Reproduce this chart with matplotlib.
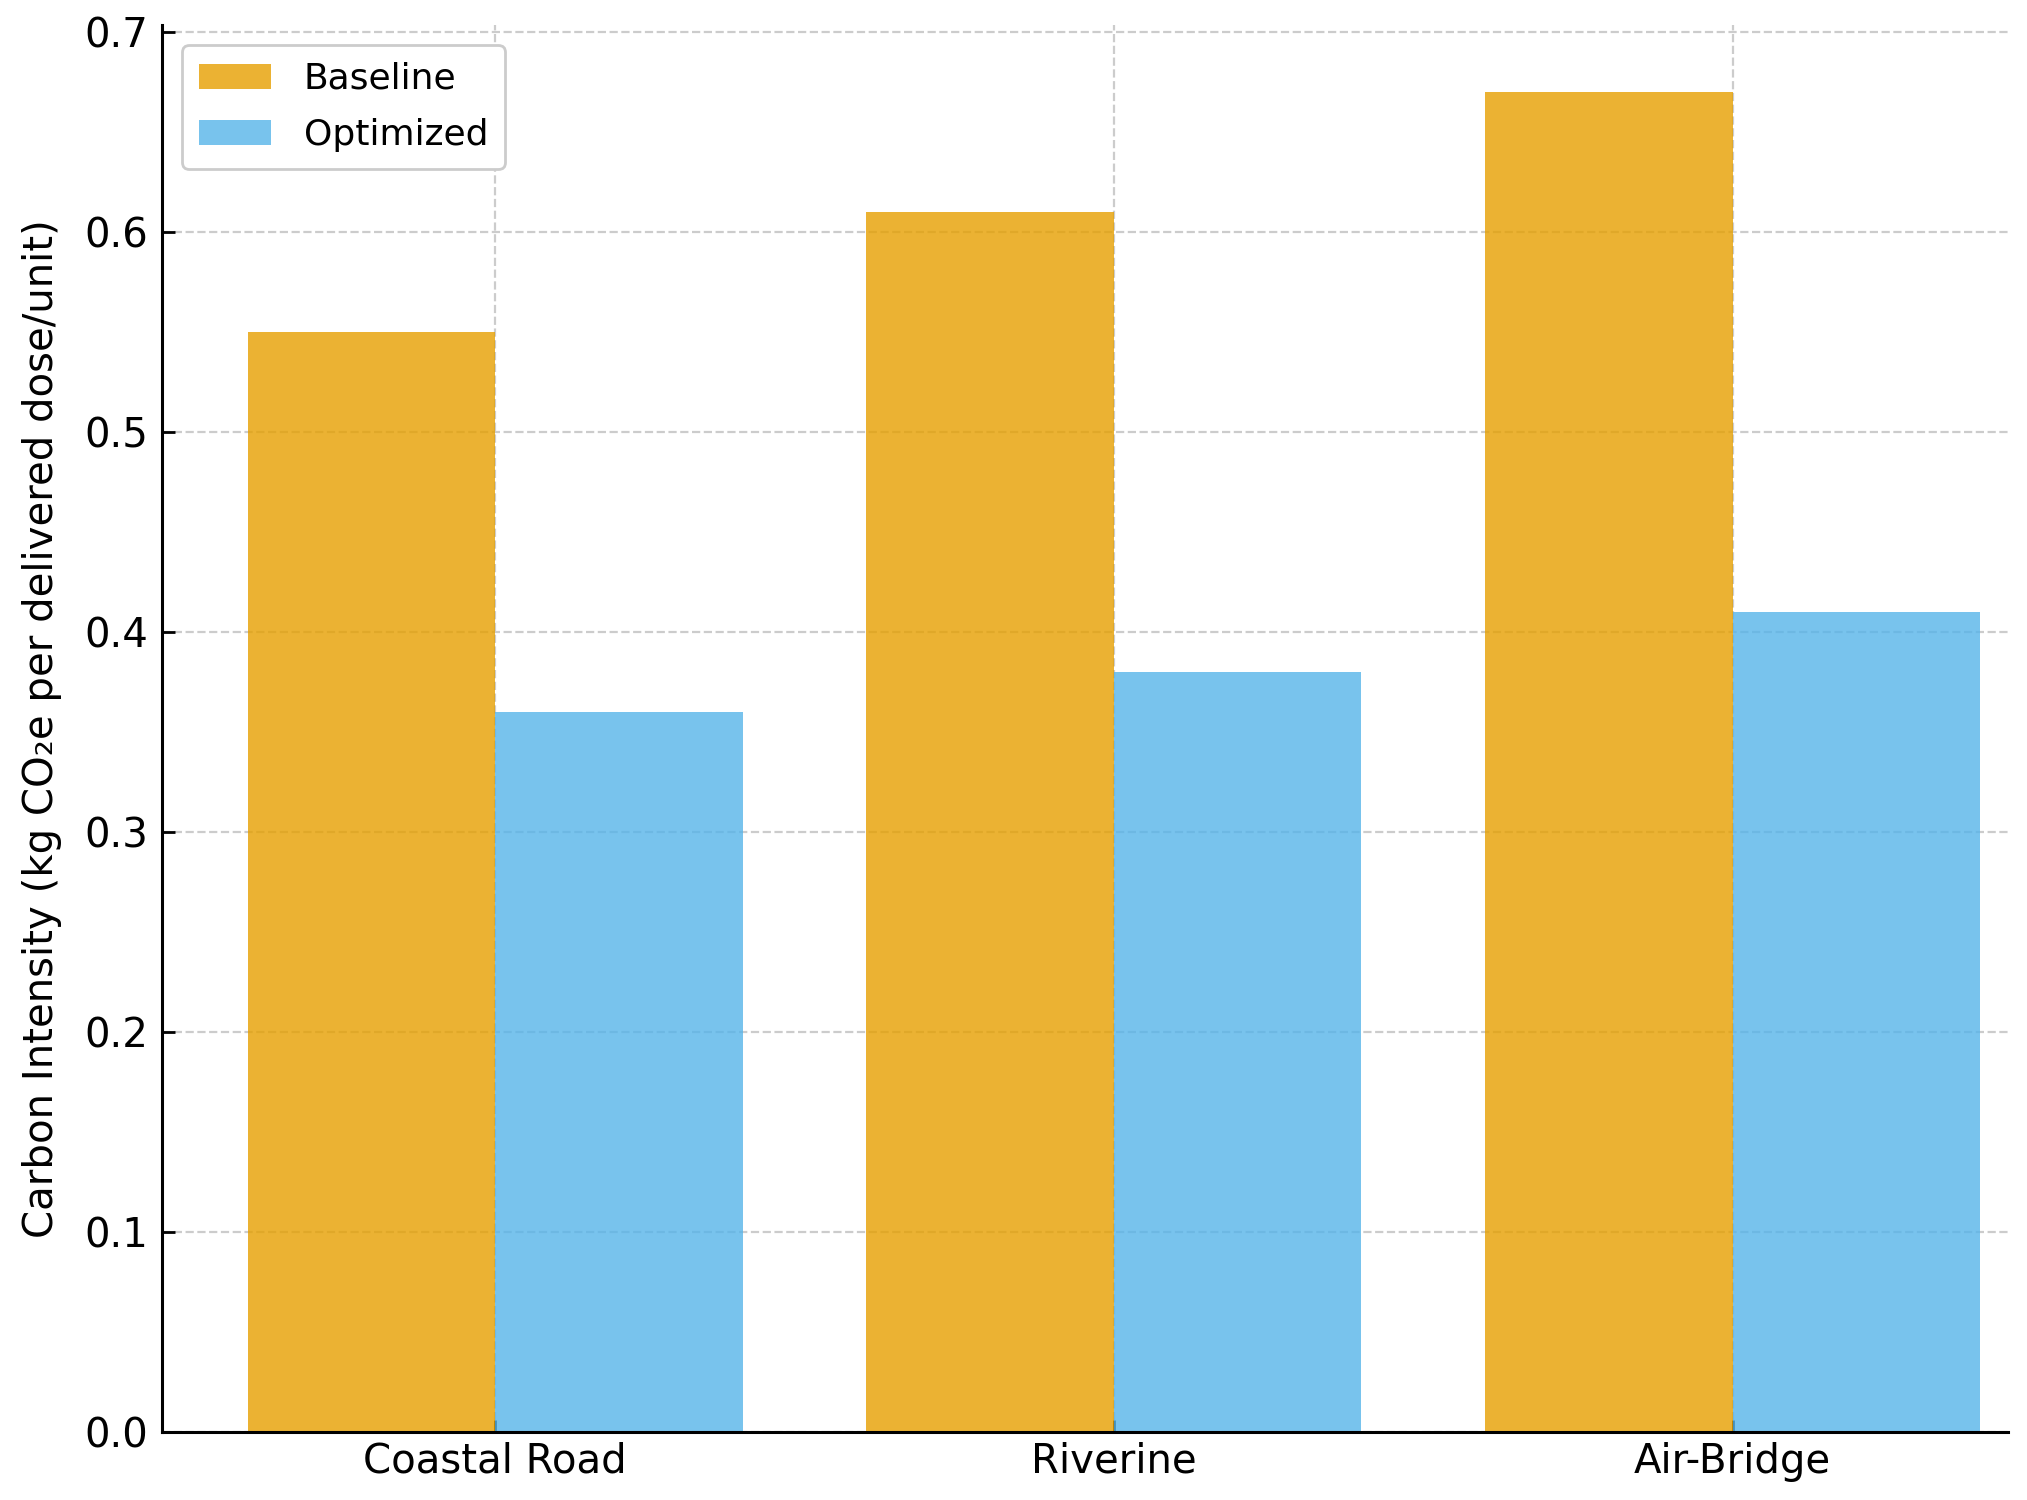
import numpy as np
import matplotlib
matplotlib.use("Agg")
import matplotlib.pyplot as plt

# Carbon intensity per corridor, kg CO2e per delivered dose/unit
corridors = ["Coastal Road", "Riverine", "Air-Bridge"]
baseline = [0.55, 0.61, 0.67]
optimized = [0.36, 0.38, 0.41]
yticks = [0.0, 0.1, 0.2, 0.3, 0.4, 0.5, 0.6, 0.7]

x = np.arange(len(corridors))
width = 0.4

fig = plt.figure(figsize=(10.135, 7.5), dpi=200)
ax = fig.add_axes([0.080, 0.0453, 0.9106, 0.938])

ax.bar(x - width / 2, baseline, width, label="Baseline", color="#E69F00", alpha=0.8)
ax.bar(x + width / 2, optimized, width, label="Optimized", color="#56B4E9", alpha=0.8)

ax.set_xticks(x)
ax.set_xticklabels(corridors, fontsize=14.5)
ax.set_xlim(-0.538, 2.445)
ax.set_ylim(0, 0.7035)
ax.set_yticks(yticks)
ax.set_yticklabels([f"{v:.1f}" for v in yticks], fontsize=14.5)
ax.set_ylabel("Carbon Intensity (kg CO\u2082e per delivered dose/unit)", fontsize=14.5, labelpad=8)

ax.tick_params(direction="in", length=4.5, width=1)
ax.tick_params(axis="y", pad=5)
ax.set_axisbelow(True)
ax.grid(True, linestyle="--", color="#cccccc", linewidth=0.8)
for side in ["top", "right"]:
    ax.spines[side].set_visible(False)
for side in ["left", "bottom"]:
    ax.spines[side].set_linewidth(1.1)

ax.legend(loc="upper left", fontsize=13, handlelength=2.0, handletextpad=0.9,
          labelspacing=0.62, borderpad=0.47,
          framealpha=1, edgecolor="#cccccc", borderaxespad=0.55)

fig.savefig("out.png", dpi=200)
